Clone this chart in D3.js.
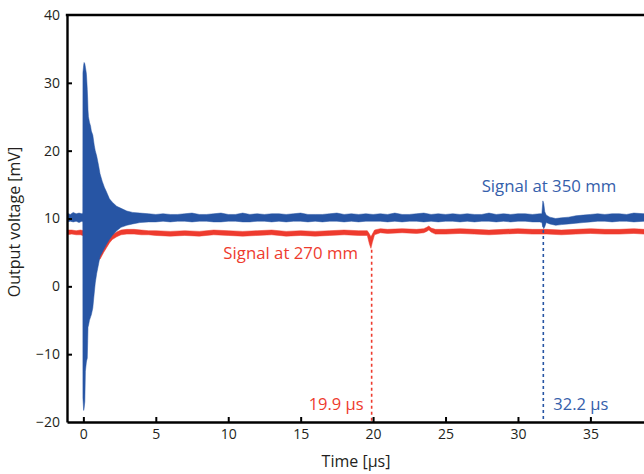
<!DOCTYPE html>
<html><head><meta charset="utf-8">
<script src="https://cdn.jsdelivr.net/npm/d3@7"></script>
<style>body{margin:0;background:#fff}svg{display:block}text{font-family:"Open Sans",sans-serif;fill:#231f20}</style>
</head><body><svg id="c" width="644" height="474"></svg>
<script>
// ---- data ----
const xTicks = [0,5,10,15,20,25,30,35];
const yTicks = [-20,-10,0,10,20,30,40];

// Signal at 350 mm (blue): time [µs], upper and lower edge of the trace [mV]
const blueTime = [-1.13,-0.9,-0.7,-0.5,-0.3,-0.1,-0.04,-0.03,0.02,0.05,0.1,0.14,0.2,0.22,0.27,0.3,0.32,0.35,0.42,0.5,0.55,0.65,0.75,0.82,0.92,1.05,1.15,1.3,1.45,1.6,1.8,2.0,2.3,2.6,3.0,3.4,3.9,4.5,
  5,5.5,6,6.5,7,7.5,8,8.5,9,9.5,10,10.5,11,11.5,12,12.5,13,13.5,14,14.5,15,15.5,16,16.5,17,17.5,18,18.5,19,19.5,20,20.5,21,21.5,22,22.5,23,23.5,24,24.5,25,25.5,26,26.5,27,27.5,28,28.5,29,29.5,30,30.5,31,31.5,31.65,31.72,31.78,31.85,31.95,32.2,32.6,33.0,33.5,34.0,34.5,35,35.5,36,36.5,37,37.5,38,38.7];
const blueHigh = [10.8,10.6,10.9,10.7,10.8,10.7,10.8,31.5,32.6,33.0,32.8,32.3,31.5,31.0,29.0,27.5,26.0,25.0,24.2,23.6,22.9,22.3,20.8,20.0,19.2,17.8,16.6,15.5,14.6,13.9,12.9,12.4,11.8,11.5,11.1,10.9,10.8,10.7,
  10.6,10.7,10.6,10.6,10.7,10.8,10.6,10.6,10.7,10.8,10.6,10.6,10.8,10.6,10.7,10.6,10.7,10.7,10.6,10.7,10.8,10.6,10.6,10.6,10.7,10.8,10.6,10.7,10.6,10.7,10.6,10.7,10.6,10.8,10.6,10.6,10.7,10.8,10.6,10.7,10.6,10.7,10.6,10.7,10.6,10.6,10.8,10.6,10.7,10.6,10.7,10.7,10.6,10.7,10.7,12.6,12.2,11.0,10.5,10.2,10.0,10.1,10.2,10.4,10.5,10.6,10.7,10.6,10.7,10.7,10.6,10.8,10.7];
const blueLow = [9.5,9.6,9.5,9.6,9.4,9.6,9.5,-16.5,-18.3,-18.0,-17.0,-12.5,-11.3,-11.0,-10.6,-8.0,-6.0,-5.8,-5.0,-4.5,-4.2,-3.2,-1.0,0.5,1.9,3.3,4.4,5.0,5.6,6.2,6.9,7.5,8.2,8.7,9.0,9.2,9.4,9.5,
  9.5,9.6,9.5,9.6,9.6,9.5,9.6,9.6,9.5,9.5,9.6,9.6,9.5,9.5,9.6,9.6,9.5,9.6,9.5,9.6,9.6,9.5,9.6,9.5,9.6,9.6,9.5,9.6,9.5,9.6,9.6,9.6,9.5,9.6,9.5,9.6,9.6,9.5,9.6,9.5,9.6,9.6,9.5,9.6,9.5,9.6,9.6,9.5,9.6,9.5,9.6,9.6,9.5,9.5,9.4,8.8,8.5,8.8,9.4,9.2,9.0,9.1,9.2,9.3,9.4,9.5,9.6,9.6,9.5,9.6,9.6,9.5,9.6];

// Signal at 270 mm (red)
const redTime = [-1.13,-0.8,-0.5,-0.2,0.5,0.95,1.15,1.4,1.6,1.8,2.0,2.3,2.6,3.0,3.5,4.0,4.5,5,6,7,8,9,10,11,12,13,14,15,16,17,18,19,19.6,19.75,19.85,19.95,20.1,20.5,21,22,23,23.5,23.7,23.85,24.0,24.3,25,26,27,28,29,30,31,32,33,34,35,36,37,38,38.7];
const redHigh = [8.3,8.3,8.2,8.3,8.0,5.0,4.8,5.7,6.5,7.1,7.6,8.0,8.3,8.4,8.4,8.3,8.2,8.2,8.1,8.2,8.1,8.3,8.2,8.1,8.2,8.3,8.1,8.2,8.1,8.2,8.3,8.2,8.2,7.7,7.3,7.7,8.3,8.5,8.4,8.5,8.4,8.5,8.7,8.9,8.6,8.4,8.4,8.5,8.4,8.3,8.4,8.5,8.4,8.4,8.3,8.4,8.5,8.4,8.4,8.5,8.4];
const redLow = [7.6,7.7,7.6,7.6,7.1,4.1,4.0,5.0,5.7,6.4,6.9,7.3,7.6,7.7,7.7,7.6,7.6,7.5,7.4,7.5,7.4,7.6,7.5,7.4,7.5,7.6,7.4,7.5,7.4,7.5,7.6,7.5,7.5,6.2,5.6,6.5,7.6,7.9,7.8,7.9,7.8,7.9,8.1,8.3,8.0,7.7,7.7,7.8,7.7,7.6,7.7,7.8,7.7,7.7,7.6,7.7,7.8,7.7,7.7,7.8,7.7];

// arrival markers
const markerTime  = [19.9, 31.75];
const markerFrom  = [5.4, 9.2];
const markerLabel = ["19.9 µs", "32.2 µs"];

// ---- drawing ----
const W = 644, H = 474;
const x = d3.scaleLinear().domain([-1.13, 38.7]).range([67, 644]);
const y = d3.scaleLinear().domain([-20, 40]).range([422, 15]);
const blue = "#2755a4", red = "#ee3b2e", blueText = "#3560ab", redText = "#ee3b2e";
const svg = d3.select("#c");

svg.append("clipPath").attr("id","clip").append("rect")
  .attr("x", x.range()[0]).attr("y", y(40)).attr("width", x.range()[1]-x.range()[0]).attr("height", y(-20)-y(40));

const g = svg.append("g").attr("clip-path","url(#clip)");
const band = (t, hi, lo) => d3.area().x((d,i)=>x(t[i])).y0((d,i)=>y(lo[i])).y1((d,i)=>y(hi[i]))(t);

g.append("path").attr("d", band(redTime, redHigh, redLow)).attr("fill", red).attr("stroke", red).attr("stroke-width", 0.5);
g.append("path").attr("d", band(blueTime, blueHigh, blueLow)).attr("fill", blue).attr("stroke", blue).attr("stroke-width", 0.5);

const markerColor = [red, blue];
markerTime.forEach((t,i)=>{
  g.append("line").attr("x1", x(t)).attr("x2", x(t)).attr("y1", y(markerFrom[i])).attr("y2", y(-20))
    .attr("stroke", markerColor[i]).attr("stroke-width", 1.6).attr("stroke-dasharray","3,3");
});

// axes
const ax = svg.append("g").attr("transform", `translate(0,${y(-20)})`)
  .call(d3.axisBottom(x).tickValues(xTicks).tickSize(-5).tickSizeOuter(0).tickPadding(7));
const ay = svg.append("g").attr("transform", `translate(${x.range()[0]},0)`)
  .call(d3.axisLeft(y).tickValues(yTicks).tickSize(-5).tickSizeOuter(0).tickPadding(7));
[ax, ay].forEach(a=>{
  a.select(".domain").attr("stroke","#000").attr("stroke-width",2.4);
  a.selectAll(".tick line").attr("stroke","#000").attr("stroke-width",2);
  a.selectAll(".tick text").attr("font-size",14).attr("fill","#231f20").attr("font-family","Open Sans");
});
ay.selectAll(".tick").filter(d=>d===-20||d===40).select("line").remove();
svg.append("line").attr("x1", x.range()[0]-1.2).attr("x2", W).attr("y1", y(40)).attr("y2", y(40))
  .attr("stroke","#000").attr("stroke-width",2.4);

// titles
svg.append("text").attr("x", 356).attr("y", 467).attr("text-anchor","middle").attr("font-size",16).text("Time [µs]");
svg.append("text").attr("transform","translate(20,222) rotate(-90)").attr("text-anchor","middle").attr("font-size",16).text("Output voltage [mV]");

// annotations
svg.append("text").attr("x", 549).attr("y", 192).attr("text-anchor","middle").attr("font-size",16.8).style("fill", blueText).text("Signal at 350 mm");
svg.append("text").attr("x", 358).attr("y", 259).attr("text-anchor","end").attr("font-size",16.8).style("fill", redText).text("Signal at 270 mm");
svg.append("text").attr("x", x(markerTime[0]) - 8).attr("y", 410).attr("text-anchor","end").attr("font-size",16.5).style("fill", redText).text(markerLabel[0]);
svg.append("text").attr("x", x(markerTime[1]) + 10).attr("y", 410).attr("text-anchor","start").attr("font-size",16.5).style("fill", blueText).text(markerLabel[1]);
</script></body></html>
